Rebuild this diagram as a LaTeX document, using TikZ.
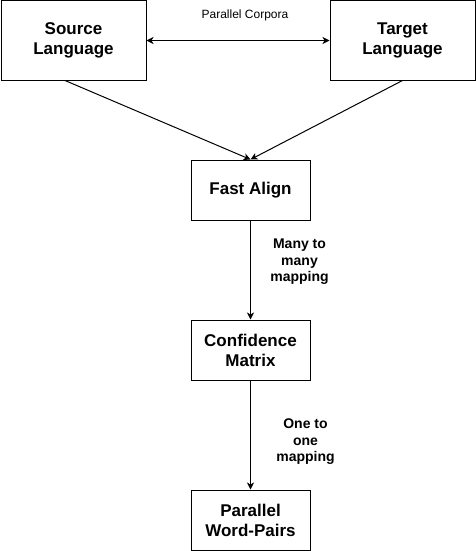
\documentclass[tikz,border=0pt]{standalone}
\usepackage{fontspec}
\setmainfont{Liberation Sans}
\usetikzlibrary{positioning,arrows.meta}

\begin{document}
\begin{tikzpicture}[x=1pt, y=-1pt, >={Stealth[length=7pt, width=7pt, inset=2pt]}, line width=1pt]
  \tikzstyle{bigbox}=[rectangle, draw=black, fill=white, inner sep=0pt,
                      minimum width=145pt, minimum height=79pt,
                      align=center, font=\fontsize{17}{20}\selectfont\bfseries]
  \tikzstyle{stepbox}=[rectangle, draw=black, fill=white, inner sep=0pt,
                       minimum width=119pt, minimum height=60pt,
                       align=center, font=\fontsize{17}{20}\selectfont\bfseries]
  \tikzstyle{lbl}=[align=center, font=\fontsize{14}{16.5}\selectfont\bfseries]
  \tikzstyle{arr}=[->]

  \useasboundingbox (0,0) rectangle (476,551);

  \node[bigbox]  at ( 73.5, 40.5) (src)   {Source\\Language};
  \node[bigbox]  at (402.5, 40.5) (tgt)   {Target\\Language};
  \node[stepbox] at (250.5,190)   (align) {Fast Align};
  \node[stepbox] at (250.5,350)   (conf)  {Confidence\\Matrix};
  \node[stepbox] at (250.5,520)   (pairs) {Parallel\\Word-Pairs};

  \node[font=\fontsize{12}{14}\selectfont] at (245,15) (corp) {Parallel Corpora};

  \draw[<->] (src) -- (tgt);
  \draw[arr] ([xshift=-8.5pt]src.south) -- (align.north);
  \draw[arr] (tgt.south) -- (align.north);

  \draw[arr] (align) -- node[lbl, pos=0.42, xshift=49pt]{Many to\\many\\mapping} (conf);
  \draw[arr] (conf)  -- node[lbl, pos=0.564, xshift=55pt]{One to\\one\\mapping}  (pairs);
\end{tikzpicture}
\end{document}
